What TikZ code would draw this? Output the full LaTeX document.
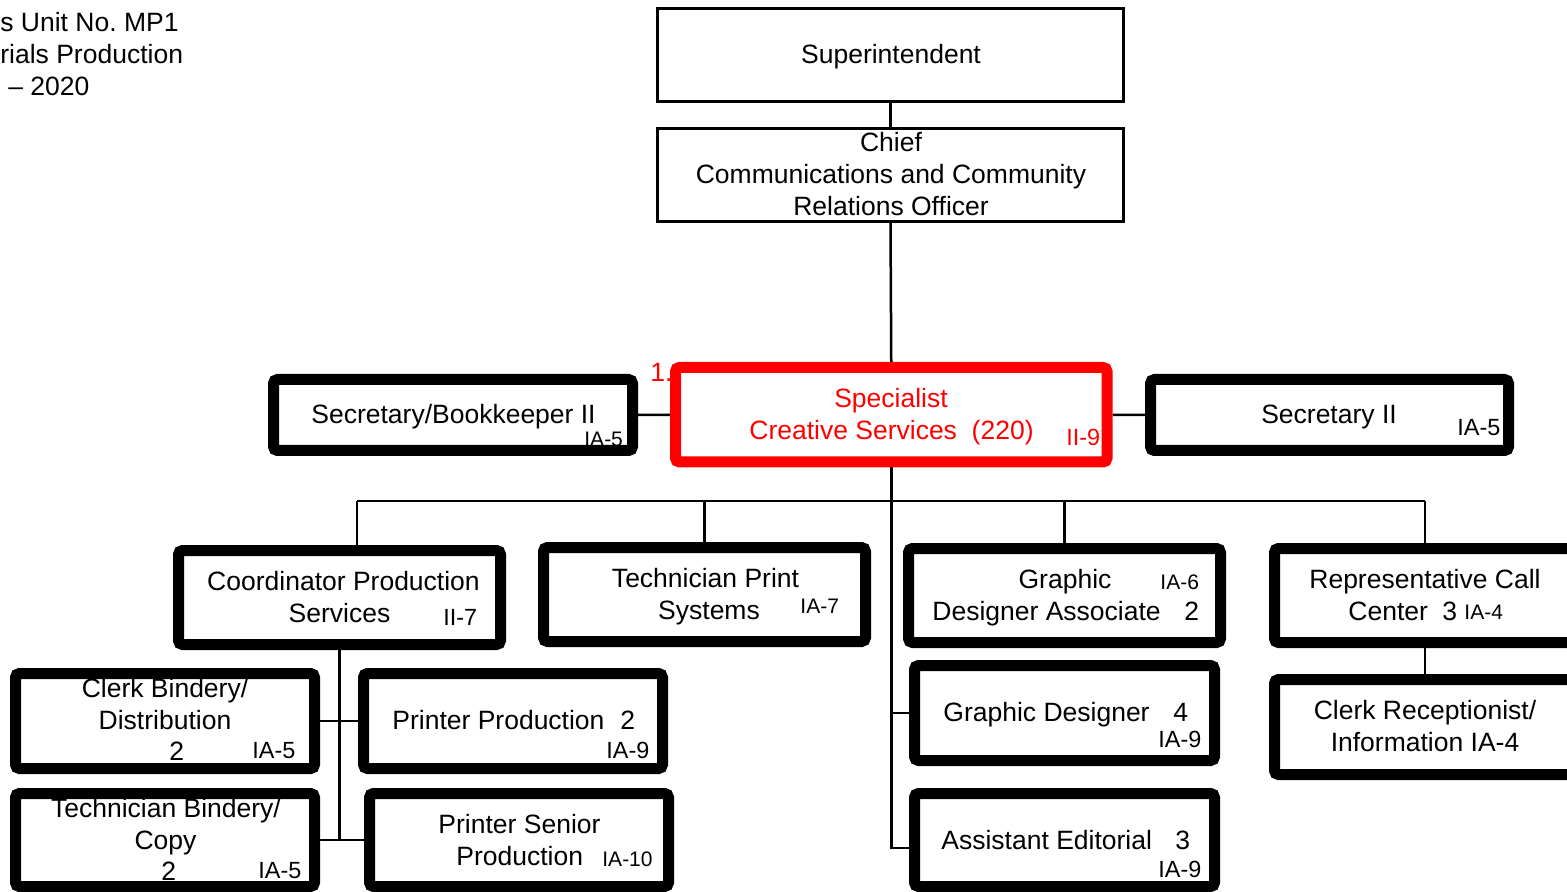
\documentclass[tikz,border=0pt]{standalone}
\usepackage{fontspec}
\setmainfont{Liberation Sans}
\usetikzlibrary{backgrounds}
\definecolor{sred}{RGB}{255,0,0}
\frenchspacing
\begin{document}
\begin{tikzpicture}[x=0.5pt,y=-0.5pt,
  tbox/.style={draw, line width=1.5pt, fill=white, inner sep=0},
  kbox/.style={draw, line width=5.5pt, fill=white, inner sep=0, rounded corners=2pt},
  conn/.style={line width=1.25pt},
  tc/.style={font=\fontsize{13.25}{16}\selectfont, inner sep=0, anchor=base},
  tl/.style={font=\fontsize{13.25}{16}\selectfont, inner sep=0, anchor=base west},
  gs/.style={font=\fontsize{10.5}{12}\selectfont, inner sep=0, anchor=base west},
  gm/.style={font=\fontsize{11.7}{13}\selectfont, inner sep=0, anchor=base west}]
\useasboundingbox (0,0) rectangle (1567,892);
\clip (0,0) rectangle (1567,892);

% header text
\node[tl] (h1) at (0,31.5) {s Unit No.\ MP1};
\node[tl] (h2) at (0,63.5) {rials Production};
\node[tl] (h3) at (8,95.5) {– 2020};

% boxes
\node[tbox, minimum width=233pt, minimum height=46.5pt] (sup) at (890.5,55) {};
\node[tbox, minimum width=233pt, minimum height=46.5pt] (chief) at (890.5,175) {};
\node[tl, text=sred] (one) at (650,381.5) {1.};
\node[kbox, draw=sred, minimum width=215.75pt, minimum height=47.25pt] (spec) at (891.25,414.75) {};
\node[kbox, minimum width=179.5pt, minimum height=35.5pt] (secbook) at (453,415) {};
\node[kbox, minimum width=179pt, minimum height=35.5pt] (sec2) at (1329.5,415) {};
\node[kbox, minimum width=161pt, minimum height=47pt] (coord) at (339.5,597.5) {};
\node[kbox, minimum width=161pt, minimum height=47pt] (tech) at (704.5,594.5) {};
\node[kbox, minimum width=156pt, minimum height=47pt] (gda) at (1064.5,595.5) {};
\node[kbox, minimum width=150.5pt, minimum height=47pt] (rep) at (1425,595.5) {};
\node[kbox, minimum width=150.5pt, minimum height=47.5pt] (crec) at (1425,727) {};
\node[kbox, minimum width=150pt, minimum height=47.5pt] (gd) at (1064.5,713) {};
\node[kbox, minimum width=150pt, minimum height=46.5pt] (ae) at (1064.5,840) {};
\node[kbox, minimum width=149.5pt, minimum height=47.5pt] (cb) at (165,721) {};
\node[kbox, minimum width=149.5pt, minimum height=47.5pt] (pp) at (513,721) {};
\node[kbox, minimum width=149.5pt, minimum height=46.5pt] (tb) at (165,840) {};
\node[kbox, minimum width=149.5pt, minimum height=46.5pt] (ps) at (519,840) {};

% connectors
\begin{scope}[on background layer]
\draw[conn] (sup.south) -- (chief.north);
\draw[conn] (chief.south) -- (spec.north);
\draw[conn] (secbook.east) -- (spec.west);
\draw[conn] (spec.east) -- (sec2.west);
\coordinate (busL) at (357,501);
\coordinate (busR) at (1425,501);
\coordinate (busT) at (704.5,501);
\coordinate (busG) at (1064.5,501);
\coordinate (aeJ) at (891.25,848);
\draw[conn] (busL) -- (busR);
\draw[conn] (busL) -- (busL |- coord.north);
\draw[conn] (busT) -- (tech.north);
\draw[conn] (busG) -- (gda.north);
\draw[conn] (busR) -- (rep.north);
\draw[conn] (spec.south) -- (aeJ) -- (aeJ -| ae.west);
\draw[conn] (spec.south |- gd.west) -- (gd.west);
\draw[conn] (rep.south) -- (crec.north);
\draw[conn] (coord.south) -- (coord.south |- tb.east);
\draw[conn] (cb.east) -- (pp.west);
\draw[conn] (tb.east) -- (ps.west);
\end{scope}

% texts
\node[tc] (tsup) at (891,63.5) {Superintendent};
\node[tc] (tch1) at (891,151.5) {Chief};
\node[tc] (tch2) at (891,183.5) {Communications and Community};
\node[tc] (tch3) at (891,215.5) {Relations Officer};

\node[tc, text=sred] (tsp1) at (891,407.5) {Specialist};
\node[tc, text=sred] (tsp2) at (891.5,439.5) {Creative Services\ \ (220)};
\node[gm, text=sred] (tsp3) at (1066,446) {II-9};

\node[tc] (tsb) at (453.5,423.5) {Secretary/Bookkeeper II};
\node[gs] (tsbg) at (584,447) {IA-5};

\node[tc] (ts2) at (1329,423.5) {Secretary II};
\node[gm] (ts2g) at (1457,436) {IA-5};

\node[tc] (tco1) at (343.5,590.5) {Coordinator Production};
\node[tc] (tco2) at (339.5,622.5) {Services};
\node[gm] (tcog) at (443,625) {II-7};

\node[tc] (tte1) at (705.5,587.5) {Technician Print};
\node[tc] (tte2) at (709,619.5) {Systems};
\node[gs] (tteg) at (800,613.5) {IA-7};

\node[tc] (tga1) at (1065,588.5) {Graphic};
\node[gs] (tgag) at (1160,589.5) {IA-6};
\node[tl] (tga2) at (932,620.5) {Designer Associate};
\node[tl] (tga3) at (1184,620.5) {2};

\node[tc] (tre1) at (1425,588.5) {Representative Call};
\node[tl] (tre2) at (1348,620.5) {Center};
\node[tl] (tre3) at (1442,620.5) {3};
\node[gs] (treg) at (1464,619.5) {IA-4};

\node[tc] (tcr1) at (1425,719.5) {Clerk Receptionist/};
\node[tc] (tcr2) at (1425,751.5) {Information IA-4};

\node[tl] (tgd1) at (943,721.5) {Graphic Designer};
\node[tl] (tgd2) at (1173,721.5) {4};
\node[gm] (tgdg) at (1158,747.5) {IA-9};

\node[tl] (tae1) at (941,849.5) {Assistant Editorial};
\node[tl] (tae2) at (1175,849.5) {3};
\node[gm] (taeg) at (1158,877.5) {IA-9};

\node[tc] (tcb1) at (165,697.5) {Clerk Bindery/};
\node[tc] (tcb2) at (165,729.5) {Distribution};
\node[tl] (tcb3) at (169,760.5) {2};
\node[gm] (tcbg) at (252,758.5) {IA-5};

\node[tl] (tpp1) at (392,729.5) {Printer Production};
\node[tl] (tpp2) at (620,729.5) {2};
\node[gm] (tppg) at (606,758.5) {IA-9};

\node[tc] (ttb1) at (166,817.5) {Technician Bindery/};
\node[tc] (ttb2) at (165.5,849.5) {Copy};
\node[tl] (ttb3) at (161,880.5) {2};
\node[gm] (ttbg) at (258,878.5) {IA-5};

\node[tc] (tps1) at (519.5,833.5) {Printer Senior};
\node[tl] (tps2) at (456,865.5) {Production};
\node[gs] (tpsg) at (602,866.5) {IA-10};
\end{tikzpicture}
\end{document}
